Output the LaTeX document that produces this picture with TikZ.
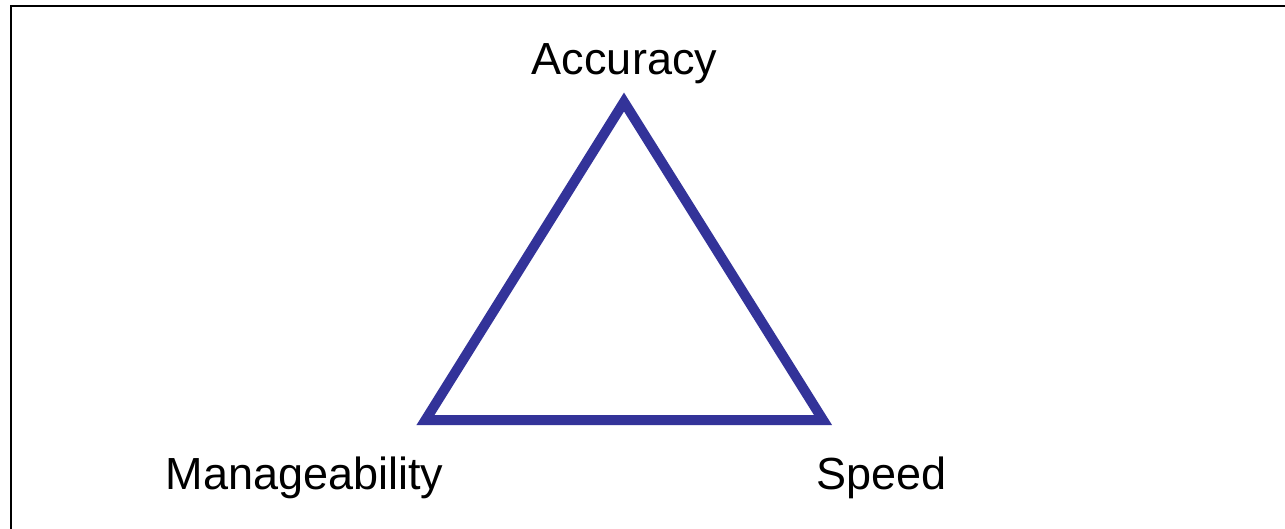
\documentclass[tikz,border=0pt]{standalone}
\usepackage{fontspec}
\setmainfont{Liberation Sans}
\definecolor{triblue}{HTML}{333399}
\begin{document}
\begin{tikzpicture}[x=1pt,y=-1pt,
  label/.style={anchor=base,inner sep=0pt,font=\fontsize{45}{54}\selectfont},
  frame/.style={draw=black,line width=2pt},
  tri/.style={draw=triblue,line width=10pt,line join=miter}]
\useasboundingbox (0,0) rectangle (1285,529);
\draw[frame] (11,529) -- (11,6) -- (1285,6);
\coordinate (top) at (624,102);
\coordinate (bl) at (425.5,420);
\coordinate (br) at (823,420);
\draw[tri] (top) -- (bl) -- (br) -- cycle;
\node[label] (acc) at (624.5,75) {Accuracy};
\node[label] (man) at (304.5,489) {Manageability};
\node[label] (spd) at (881.5,489) {Speed};
\end{tikzpicture}
\end{document}
